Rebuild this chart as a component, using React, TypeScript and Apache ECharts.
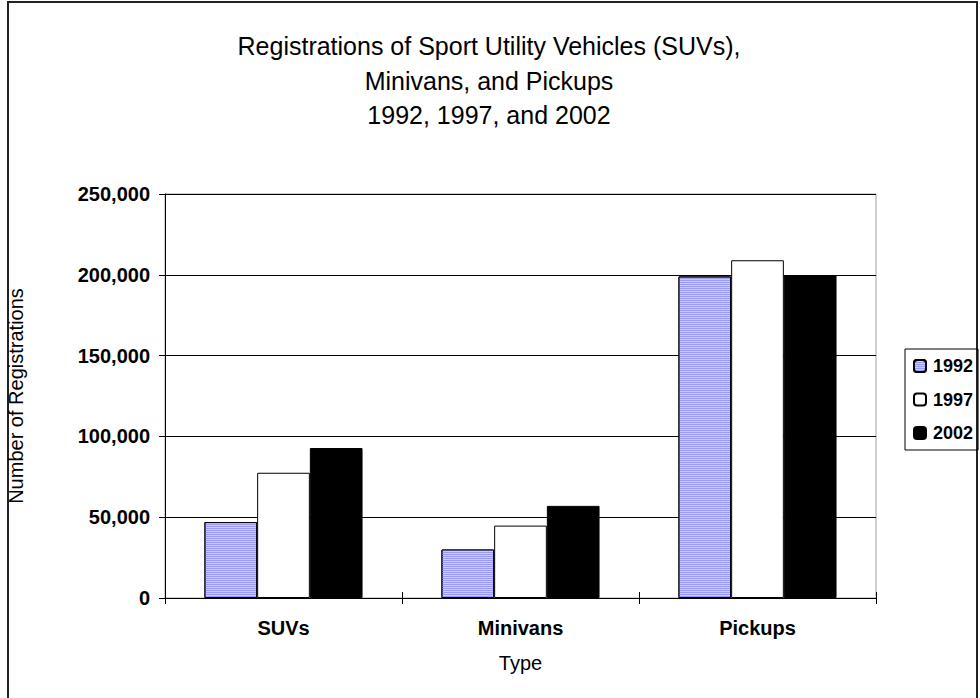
import React, { useEffect, useRef } from "react";
import * as echarts from "echarts";

const categories = ["SUVs", "Minivans", "Pickups"];
const seriesNames = ["1992", "1997", "2002"];
const values1992 = [47000, 30000, 199000];
const values1997 = [77500, 44800, 209000];
const values2002 = [92800, 57000, 199500];
const yTicks = { min: 0, max: 250000, interval: 50000 };
const titleLines = [
  "Registrations of Sport Utility Vehicles (SUVs),",
  "Minivans, and Pickups",
  "1992, 1997, and 2002",
];

const FONT = "Arial, 'Liberation Sans', sans-serif";

export default function App() {
  const ref = useRef<HTMLDivElement>(null);
  useEffect(() => {
    if (!ref.current) return;
    const chart = echarts.init(ref.current, undefined, { renderer: "svg" });
    const fmt = (v: number) => v.toLocaleString("en-US");
    chart.setOption({
      animation: false,
      backgroundColor: "#ffffff",
      textStyle: { fontFamily: FONT },
      title: {
        text: titleLines.join("\n"),
        left: 489,
        textAlign: "center",
        top: 29,
        padding: 0,
        textStyle: {
          fontFamily: FONT,
          fontSize: 25,
          fontWeight: "normal",
          color: "#000",
          lineHeight: 34.5,
        },
      },
      graphic: [
        {
          type: "rect",
          shape: { x: 8, y: 2, width: 969, height: 720 },
          style: { fill: "none", stroke: "#222", lineWidth: 2 },
          silent: true,
          z: -1,
        },
      ],
      legend: {
        orient: "vertical",
        left: 905,
        top: 349,
        itemWidth: 12,
        itemHeight: 12,
        itemGap: 13.5,
        padding: [7, 5, 7, 8],
        borderColor: "#000",
        borderWidth: 1,
        textStyle: {
          fontFamily: FONT,
          fontSize: 18,
          fontWeight: "bold",
          color: "#000",
          lineHeight: 20,
          padding: [0, 0, 0, 2],
        },
        data: seriesNames,
      },
      grid: {
        left: 165,
        right: 104,
        top: 194,
        bottom: 100,
        show: true,
        borderColor: "#a0a0a0",
        borderWidth: 1,
        backgroundColor: "transparent",
        containLabel: false,
        outerBoundsMode: "none",
      },
      xAxis: [
        {
          type: "category",
          data: categories,
          position: "bottom",
          axisLine: { lineStyle: { color: "#000", width: 1 } },
          axisTick: { show: true, length: 6, lineStyle: { color: "#000" } },
          axisLabel: {
            fontFamily: FONT,
            fontSize: 20,
            fontWeight: "bold",
            color: "#000",
            margin: 20,
          },
          name: "Type",
          nameLocation: "middle",
          nameGap: 55,
          nameTextStyle: { fontFamily: FONT, fontSize: 20, color: "#000" },
        },
        {
          type: "category",
          data: categories,
          position: "bottom",
          axisLine: { show: false },
          axisTick: { show: true, inside: true, length: 6, lineStyle: { color: "#000" } },
          axisLabel: { show: false },
        },
      ],
      yAxis: [
        {
          type: "value",
          min: yTicks.min,
          max: yTicks.max,
          interval: yTicks.interval,
          axisLine: { show: true, lineStyle: { color: "#000", width: 1 } },
          axisTick: { show: true, length: 6, lineStyle: { color: "#000" } },
          splitLine: { show: true, lineStyle: { color: "#000", width: 1 } },
          axisLabel: {
            fontFamily: FONT,
            fontSize: 20,
            fontWeight: "bold",
            color: "#000",
            margin: 15,
            formatter: fmt,
          },
          name: "Number of Registrations",
          nameLocation: "middle",
          nameRotate: 90,
          nameGap: 139,
          nameTextStyle: { fontFamily: FONT, fontSize: 20, color: "#000" },
        },
        {
          type: "value",
          min: yTicks.min,
          max: yTicks.max,
          interval: yTicks.interval,
          position: "left",
          axisLine: { show: false },
          axisTick: { show: true, inside: true, length: 6, lineStyle: { color: "#000" } },
          splitLine: { show: false },
          axisLabel: { show: false },
        },
      ],
      series: [
        {
          name: seriesNames[0],
          type: "bar",
          data: values1992,
          barGap: "0%",
          barCategoryGap: "33.3%",
          itemStyle: {
            color: "#ccccff",
            borderColor: "#000",
            borderWidth: 1,
            decal: {
              symbol: "rect",
              symbolSize: 1,
              dashArrayX: [1, 0],
              dashArrayY: [1, 1],
              color: "#9999ff",
              rotation: 0,
            },
          },
        },
        {
          name: seriesNames[1],
          type: "bar",
          data: values1997,
          barGap: "0%",
          barCategoryGap: "33.3%",
          itemStyle: { color: "#ffffff", borderColor: "#000", borderWidth: 1 },
        },
        {
          name: seriesNames[2],
          type: "bar",
          data: values2002,
          barGap: "0%",
          barCategoryGap: "33.3%",
          itemStyle: { color: "#000000", borderColor: "#000", borderWidth: 1 },
        },
      ],
    });
    return () => chart.dispose();
  }, []);
  return (
    <div
      ref={ref}
      style={{ position: "fixed", left: 0, top: 0, width: 980, height: 698 }}
    />
  );
}
